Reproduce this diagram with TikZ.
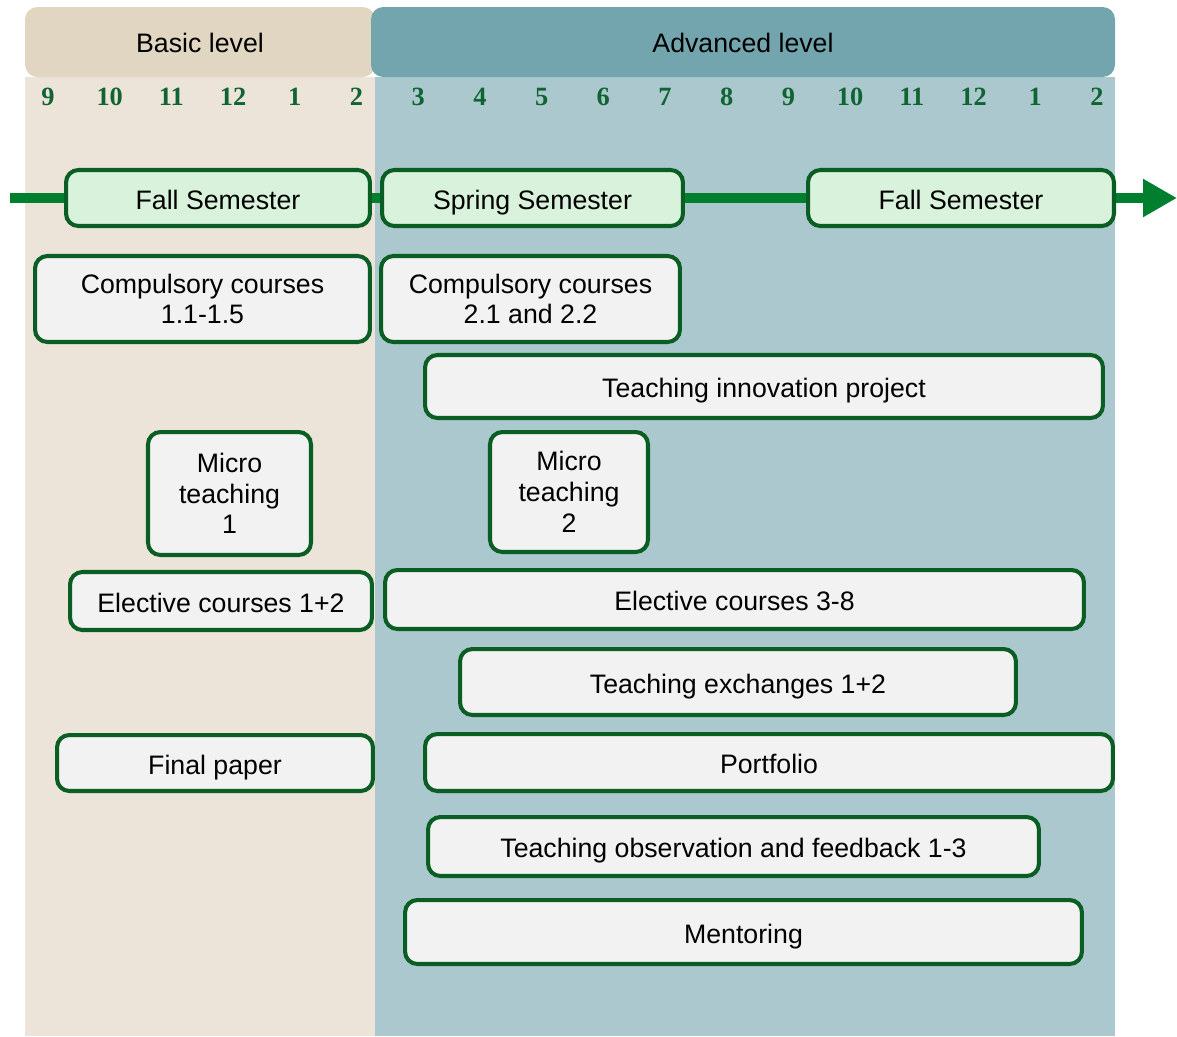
\documentclass[tikz,border=0pt]{standalone}
\usepackage{fontspec}
\setmainfont{Liberation Sans}
\newfontfamily\numfont{Liberation Serif}
\usetikzlibrary{arrows.meta}

\definecolor{basicbg}{RGB}{236,228,217}
\definecolor{basichead}{RGB}{225,214,193}
\definecolor{advbg}{RGB}{171,200,206}
\definecolor{advhead}{RGB}{114,165,174}
\definecolor{lineg}{RGB}{0,128,47}
\definecolor{edgeg}{RGB}{10,94,35}
\definecolor{numg}{RGB}{16,100,50}
\definecolor{semfill}{RGB}{217,242,220}
\definecolor{boxfill}{RGB}{242,242,242}

\begin{document}
\begin{tikzpicture}[x=0.02cm, y=-0.02cm,
        txt/.style={font=\fontsize{15.2}{17.5}\selectfont, align=center},
        box/.style={txt, draw=edgeg, line width=2.3pt, rounded corners=7pt, fill=boxfill, inner sep=0pt},
        onebox/.style={box, text height=13pt, text depth=0pt},
        sem/.style={onebox, fill=semfill},
        month/.style={font=\numfont\bfseries\fontsize{15}{16}\selectfont, text=numg}]
        \useasboundingbox (0,0) rectangle (1177,1036);

        % levels
        \fill[basicbg] (25,77) rectangle (375,1036);
        \fill[advbg] (375,77) rectangle (1115,1036);
        \fill[basichead, rounded corners=7pt] (25,7) rectangle (375,77);
        \fill[advhead, rounded corners=7pt] (371,7) rectangle (1115,77);
        \node[txt] (basic) at (200,43) {Basic level};
        \node[txt] (adv) at (743,43) {Advanced level};

        % months
        \foreach \m [count=\i from 0] in {9,10,11,12,1,2,3,4,5,6,7,8,9,10,11,12,1,2}
            \node[month] (m\i) at (48+61.7*\i,97) {\m};

        % time line
        \coordinate (tA) at (10,198);
        \coordinate (tB) at (1177,198);
        \draw[lineg, line width=5.7pt, -{Triangle[length=0.68cm,width=0.72cm]}] (tA) -- (tB);

        \node[sem, minimum width=6.08cm, minimum height=1.12cm] (fall1) at (218,198) {Fall Semester};
        \node[sem, minimum width=6.02cm, minimum height=1.12cm] (spring) at (532.5,198) {Spring Semester};
        \node[sem, minimum width=6.12cm, minimum height=1.12cm] (fall2) at (961,198) {Fall Semester};

        % activities
        \node[box, minimum width=6.70cm, minimum height=1.72cm] (comp1) at (202.5,299) {Compulsory courses\\1.1-1.5};
        \node[box, minimum width=5.98cm, minimum height=1.72cm] (comp2) at (530.5,299) {Compulsory courses\\2.1 and 2.2};
        \node[onebox, minimum width=13.56cm, minimum height=1.26cm] (innov) at (764,386.5) {Teaching innovation project};
        \node[box, minimum width=3.26cm, minimum height=2.46cm] (micro1) at (229.5,493.5) {Micro\\teaching\\1};
        \node[box, minimum width=3.16cm, minimum height=2.40cm] (micro2) at (569,492) {Micro\\teaching\\2};
        \node[onebox, minimum width=6.04cm, minimum height=1.16cm] (elect1) at (221,601) {Elective courses 1+2};
        \node[onebox, minimum width=13.98cm, minimum height=1.18cm] (elect2) at (734.5,599.5) {Elective courses 3-8};
        \node[onebox, minimum width=11.12cm, minimum height=1.32cm] (exch) at (738,682) {Teaching exchanges 1+2};
        \node[onebox, minimum width=6.32cm, minimum height=1.12cm] (final) at (215,763) {Final paper};
        \node[onebox, minimum width=13.76cm, minimum height=1.14cm] (portf) at (769,762.5) {Portfolio};
        \node[onebox, minimum width=12.22cm, minimum height=1.18cm] (observ) at (733.5,846.5) {Teaching observation and feedback 1-3};
        \node[onebox, minimum width=13.54cm, minimum height=1.28cm] (mentor) at (743.5,932) {Mentoring};
\end{tikzpicture}
\end{document}
